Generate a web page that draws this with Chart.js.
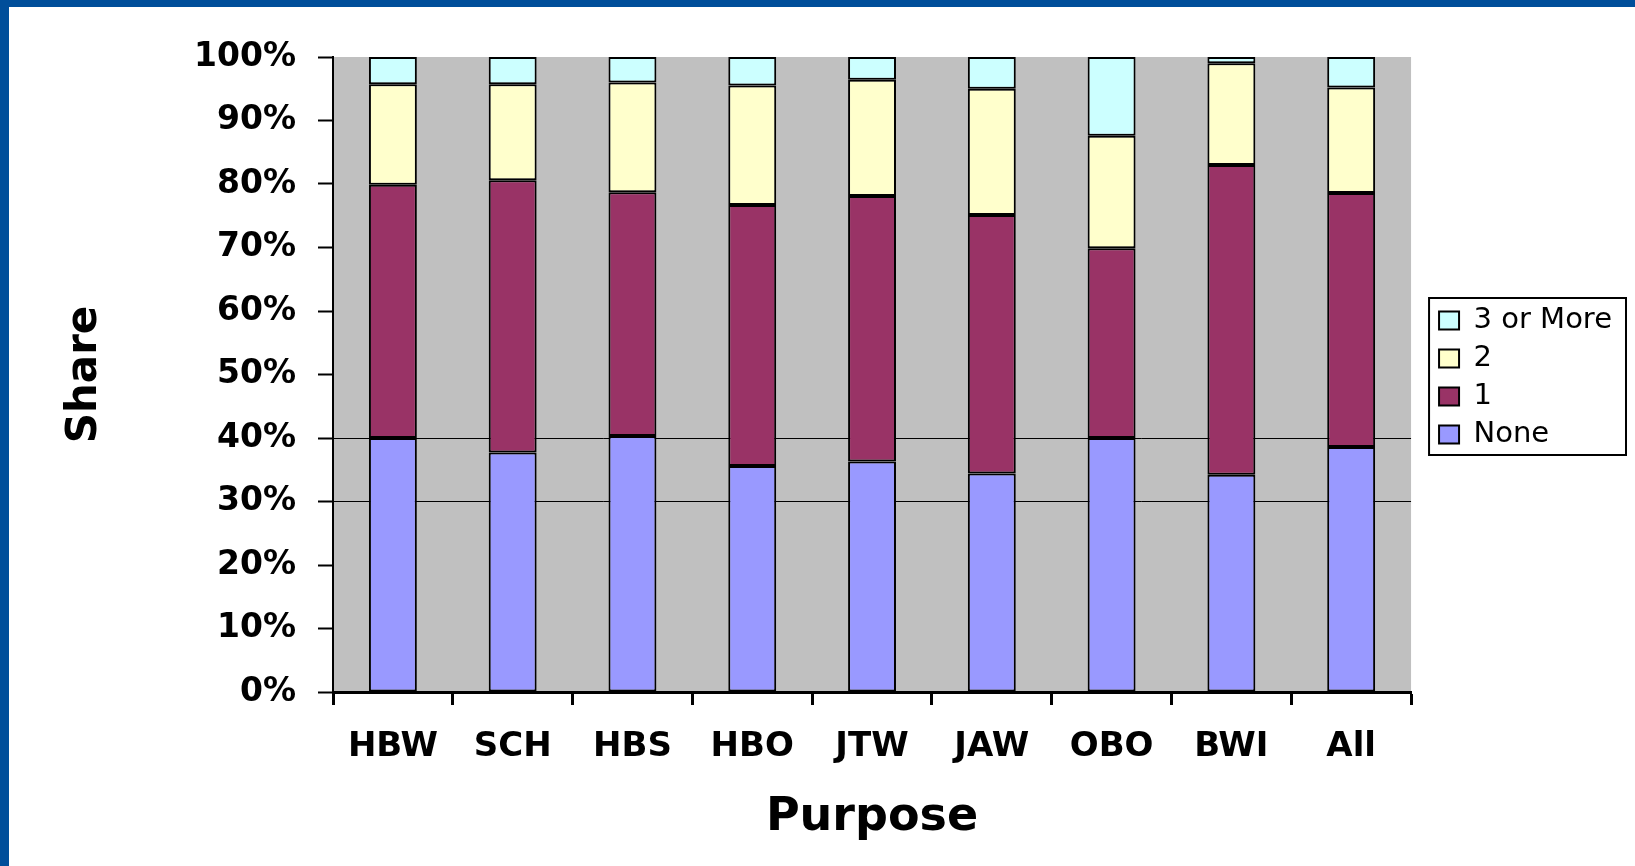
<!DOCTYPE html>
<html>
<head>
<meta charset="utf-8">
<script src="https://cdn.jsdelivr.net/npm/chart.js@4/dist/chart.umd.min.js"></script>
<style>
    body { margin: 0; background: #004e9a; width: 1635px; height: 866px; overflow: hidden; }
    #sheet { position: absolute; left: 9px; top: 7px; right: 0; bottom: 0; background: #fff; }
    #shareChart { position: absolute; left: 0; top: 0; }
</style>
</head>
<body>
<div id="sheet"></div>
<canvas id="shareChart" width="1635" height="866"></canvas>
<script>
const purposes = ["HBW", "SCH", "HBS", "HBO", "JTW", "JAW", "OBO", "BWI", "All"];
const noneShare = [40.0, 37.7, 40.3, 35.6, 36.3, 34.4, 40.0, 34.2, 38.6];
const oneShare = [39.9, 42.9, 38.4, 41.1, 41.8, 40.7, 29.9, 48.8, 40.0];
const twoShare = [15.8, 15.1, 17.3, 18.8, 18.3, 19.9, 17.7, 16.0, 16.6];
const threePlusShare = [4.3, 4.3, 4.0, 4.5, 3.6, 5.0, 12.4, 1.0, 4.8];
const yTicks = [0, 10, 20, 30, 40, 50, 60, 70, 80, 90, 100];
const gridAt = [30, 40];

const plotBackground = {
    id: "plotBackground",
    beforeDraw(chart) {
        const { ctx, chartArea } = chart;
        ctx.save();
        ctx.fillStyle = "#c0c0c0";
        ctx.fillRect(chartArea.left, chartArea.top, chartArea.right - chartArea.left, chartArea.bottom - chartArea.top);
        ctx.restore();
    }
};

// keep the legend next to the plot (not full height), then frame it
const legendFrame = {
    id: "legendFrame",
    afterLayout(chart) {
        const legend = chart.legend;
        legend.left = chart.chartArea.right + 19;
        legend.right = legend.left + legend.width;
        legend.top = chart.chartArea.top + 3;
        legend.bottom = chart.chartArea.bottom + 3;
        legend.height = legend.bottom - legend.top;
    },
    afterDraw(chart) {
        const boxes = chart.legend.legendHitBoxes;
        if (!boxes || !boxes.length) return;
        const first = boxes[0];
        const last = boxes[boxes.length - 1];
        const w = Math.max(...boxes.map(b => b.width));
        const { ctx } = chart;
        ctx.save();
        ctx.strokeStyle = "#000";
        ctx.lineWidth = 2;
        ctx.strokeRect(first.left - 10, first.top - 8, w + 24, last.top + last.height - first.top + 14);
        ctx.restore();
    }
};

const ctx = document.getElementById("shareChart").getContext("2d");
new Chart(ctx, {
    type: "bar",
    data: {
        labels: purposes,
        datasets: [
            { label: "None", data: noneShare, backgroundColor: "#9999ff" },
            { label: "1", data: oneShare, backgroundColor: "#993366" },
            { label: "2", data: twoShare, backgroundColor: "#ffffcc" },
            { label: "3 or More", data: threePlusShare, backgroundColor: "#ccffff" }
        ].map(d => Object.assign(d, {
            borderColor: "#000",
            borderWidth: 2,
            borderSkipped: false,
            categoryPercentage: 1,
            barPercentage: 0.4
        }))
    },
    options: {
        responsive: false,
        animation: false,
        layout: { padding: { left: 40, top: 57, right: 32, bottom: 0 } },
        plugins: {
            tooltip: { enabled: false },
            legend: {
                position: "right",
                reverse: true,
                labels: {
                    boxWidth: 20,
                    boxHeight: 18,
                    padding: 9,
                    color: "#000",
                    font: { family: "DejaVu Sans", size: 29 }
                }
            }
        },
        scales: {
            x: {
                stacked: true,
                afterFit(scale) { scale.height = 174; },
                grid: {
                    offset: true,
                    drawOnChartArea: false,
                    tickLength: 13,
                    tickWidth: 3,
                    tickColor: "#000",
                    color: "#000"
                },
                border: { color: "#000", width: 3 },
                ticks: {
                    color: "#000",
                    padding: 22,
                    font: { family: "DejaVu Sans", size: 34, weight: "bold" }
                },
                title: {
                    display: true,
                    text: "Purpose",
                    color: "#000",
                    padding: { top: 0, bottom: 20 },
                    font: { family: "DejaVu Sans", size: 46, weight: "bold" }
                }
            },
            y: {
                stacked: true,
                min: 0,
                max: 100,
                afterFit(scale) { scale.width = 293; },
                afterBuildTicks(scale) { scale.ticks = yTicks.map(v => ({ value: v })); },
                grid: {
                    color: c => gridAt.includes(c.tick.value) ? "#000" : "rgba(0,0,0,0)",
                    lineWidth: 1,
                    tickLength: 15,
                    tickWidth: 2,
                    tickColor: "#000"
                },
                border: { color: "#000", width: 2 },
                ticks: {
                    color: "#000",
                    padding: 22,
                    callback: v => v + "%",
                    font: { family: "DejaVu Sans", size: 33, weight: "bold" }
                },
                title: {
                    display: true,
                    text: "Share",
                    color: "#000",
                    padding: { top: 20, bottom: 0 },
                    font: { family: "DejaVu Sans", size: 42, weight: "bold" }
                }
            }
        }
    },
    plugins: [plotBackground, legendFrame]
});
</script>
</body>
</html>
